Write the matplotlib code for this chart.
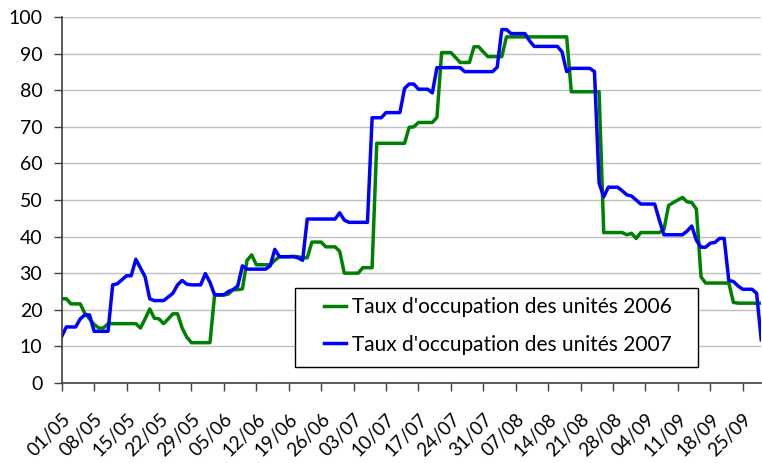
import numpy as np
import matplotlib
matplotlib.use('Agg')
import matplotlib.pyplot as plt
import matplotlib.transforms as mtransforms
from matplotlib.patches import Rectangle

plt.rcParams['font.family'] = ['Lato', 'DejaVu Sans']

# daily occupancy rates (%), 01/05 -> 29/09
taux_2006 = [23, 23, 21.6, 21.6, 21.6, 19, 17.5, 16, 15, 15,
             16.2, 16.2, 16.2, 16.2, 16.2, 16.2, 16.2, 15, 17.5, 20.2,
             17.7, 17.5, 16.2, 17.5, 18.9, 18.9, 15, 12.5, 11, 11,
             11, 11, 11, 24, 24, 24, 24.3, 25.5, 25.5, 25.7,
             33.5, 35, 32.3, 32.3, 32.3, 32.3, 33.5, 34.5, 34.5, 34.5,
             34.6, 34.5, 34.2, 34.2, 38.5, 38.5, 38.5, 37.2, 37.2, 37.2,
             36, 30, 30, 30, 30, 31.5, 31.5, 31.5, 65.5, 65.5,
             65.5, 65.5, 65.5, 65.5, 65.5, 69.9, 70, 71.2, 71.2, 71.2,
             71.2, 72.6, 90.3, 90.3, 90.3, 89, 87.6, 87.6, 87.6, 91.9,
             91.9, 90.5, 89.2, 89.2, 89.2, 89.2, 94.6, 94.6, 94.6, 94.6,
             94.6, 94.6, 94.6, 94.6, 94.6, 94.6, 94.6, 94.6, 94.6, 94.6,
             79.6, 79.6, 79.6, 79.6, 79.6, 79.6, 79.6, 41.1, 41.1, 41.1,
             41.1, 41.1, 40.5, 40.9, 39.5, 41.1, 41.1, 41.1, 41.1, 41.1,
             42, 48.5, 49.3, 50, 50.7, 49.5, 49.3, 47.5, 29, 27.3,
             27.3, 27.3, 27.3, 27.3, 27.3, 22, 21.8, 21.8, 21.8, 21.8,
             21.8, 21.8]

taux_2007 = [12.7, 15.3, 15.3, 15.3, 17.5, 18.6, 18.6, 14.1, 14.1, 14.1,
             14.1, 26.8, 27.1, 28.2, 29.3, 29.3, 33.8, 31.4, 29, 23,
             22.5, 22.5, 22.5, 23.5, 24.5, 26.8, 28, 27, 26.8, 26.8,
             26.8, 29.9, 27.5, 24.1, 24.1, 24.1, 25, 25.5, 26.5, 32,
             31.1, 31.1, 31.1, 31.1, 31.1, 32, 36.5, 34.5, 34.5, 34.5,
             34.5, 34.2, 33.5, 44.8, 44.8, 44.8, 44.8, 44.8, 44.8, 44.8,
             46.5, 44.5, 43.9, 43.9, 43.9, 43.9, 43.9, 72.5, 72.5, 72.5,
             73.9, 73.9, 73.9, 73.9, 80.5, 81.7, 81.7, 80.3, 80.3, 80.3,
             79.3, 86.2, 86.2, 86.2, 86.2, 86.2, 86.2, 85.1, 85.1, 85.1,
             85.1, 85.1, 85.1, 85.1, 86.3, 96.6, 96.6, 95.5, 95.5, 95.5,
             95.5, 93.5, 92, 92, 92, 92, 92, 92, 90.5, 85.1,
             86, 86, 86, 86, 86, 85.1, 54.6, 50.9, 53.5, 53.5,
             53.5, 52.5, 51.4, 51.1, 50, 48.9, 48.9, 48.9, 48.9, 44.5,
             40.5, 40.5, 40.5, 40.5, 40.5, 41.5, 42.9, 39, 37.1, 37.1,
             38.2, 38.4, 39.5, 39.5, 28, 27.7, 26.5, 25.6, 25.6, 25.6,
             24.5, 11.8]

tick_labels = ['01/05', '08/05', '15/05', '22/05', '29/05', '05/06', '12/06',
               '19/06', '26/06', '03/07', '10/07', '17/07', '24/07', '31/07',
               '07/08', '14/08', '21/08', '28/08', '04/09', '11/09', '18/09',
               '25/09']

days = np.arange(len(taux_2006))

fig = plt.figure(figsize=(7.62, 4.63), dpi=100)
ax = fig.add_axes([0.081, 0.173, 0.918, 0.79])

ax.plot(days, taux_2006, color='#008000', lw=2.5, label="Taux d'occupation des unités 2006")
ax.plot(days, taux_2007, color='#0000ff', lw=2.5, label="Taux d'occupation des unités 2007")

ax.set_xlim(0, len(days) - 1)
ax.set_ylim(0, 100)
ax.set_yticks(range(0, 101, 10))
ax.set_xticks(np.arange(0, len(days), 7))
ax.set_xticklabels(tick_labels, rotation=45, ha='right', va='top',
                   rotation_mode='anchor', fontsize=13.5)
# shift the rotated labels a bit to the left, like the original
offset = mtransforms.ScaledTranslation(-7 / 72, 0, fig.dpi_scale_trans)
for lab in ax.get_xticklabels():
    lab.set_transform(lab.get_transform() + offset)
ax.tick_params(axis='y', labelsize=14, length=6, width=1, color='#404040', pad=8)
ax.tick_params(axis='x', length=6, width=1, color='#404040', pad=14)

ax.yaxis.grid(True, color='#c0c0c0', lw=1)
ax.set_axisbelow(True)
for s in ['top', 'right']:
    ax.spines[s].set_visible(False)
for s in ['left', 'bottom']:
    ax.spines[s].set_color('#404040')
    ax.spines[s].set_linewidth(1.2)

# legend box
ax.add_patch(Rectangle((0.333, 0.044), 0.576, 0.216, transform=ax.transAxes,
                       facecolor='white', edgecolor='black', lw=1, zorder=4,
                       clip_on=False))
leg = ax.legend(loc='upper left', bbox_to_anchor=(0.3747, 0.235), fontsize=15,
                frameon=False, handlelength=1.05, handletextpad=0.3,
                labelspacing=0.85, borderpad=0, borderaxespad=0)
leg.set_zorder(5)

plt.savefig('out.png', dpi=100)
